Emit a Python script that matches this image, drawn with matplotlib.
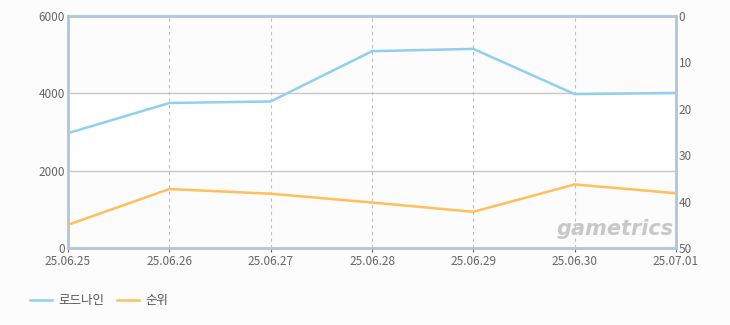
import matplotlib.pyplot as plt

plt.rcParams['font.family'] = ['Noto Sans CJK KR', 'DejaVu Sans']

dates = ['25.06.25', '25.06.26', '25.06.27', '25.06.28', '25.06.29', '25.06.30', '25.07.01']
players = [2970, 3750, 3790, 5090, 5150, 3980, 4010]
rank = [45, 37.3, 38.3, 40.2, 42.2, 36.3, 38.2]

fig = plt.figure(figsize=(7.3, 3.25), dpi=100, facecolor='#fcfcfc')
ax = fig.add_axes([68/730, 77/325, 608/730, 232/325])
ax.set_facecolor('#fcfcfc')

x = list(range(len(dates)))
ax.axhspan(2000, 4000, color='white', zorder=0)
for v in (2000, 4000):
    ax.axhline(v, color='#c8c8c8', lw=1, zorder=1)
for i in x[1:-1]:
    ax.axvline(i, color='#c0c0c0', lw=0.8, ls=(0, (3, 3)), zorder=1)

ax.plot(x, players, color='#8fd0f0', lw=1.8, zorder=3, label='로드나인')
ax.set_xlim(0, len(dates) - 1)
ax.set_ylim(0, 6000)
ax.set_yticks([0, 2000, 4000, 6000])
ax.set_xticks(x)
ax.set_xticklabels(dates)

ax2 = ax.twinx()
ax2.plot(x, rank, color='#ffbf5a', lw=1.8, zorder=3, label='순위')
ax2.set_ylim(50, 0)
ax2.set_yticks([0, 10, 20, 30, 40, 50])

for a in (ax, ax2):
    for s in a.spines.values():
        s.set_color('#b4c6d8')
        s.set_linewidth(1.8)
    a.tick_params(colors='#666666', labelsize=8.5, length=3, width=0.8)
    a.tick_params(axis='y', length=0, pad=2)
    a.tick_params(axis='x', pad=2)

ax2.text(0.9, 0.08, 'gametrics', transform=ax.transAxes, ha='center', va='center',
         fontsize=15, fontstyle='italic', fontweight='bold', color='#c8c8c8',
         family='DejaVu Sans', zorder=2)

h1, l1 = ax.get_legend_handles_labels()
h2, l2 = ax2.get_legend_handles_labels()
fig.legend(h1 + h2, l1 + l2, loc='lower left', bbox_to_anchor=(0.025, 0.02), ncol=2,
           frameon=False, fontsize=9, labelcolor='#555555', handlelength=1.8,
           columnspacing=1.0, handletextpad=0.5)

fig.savefig('out.png', dpi=100, facecolor=fig.get_facecolor())
